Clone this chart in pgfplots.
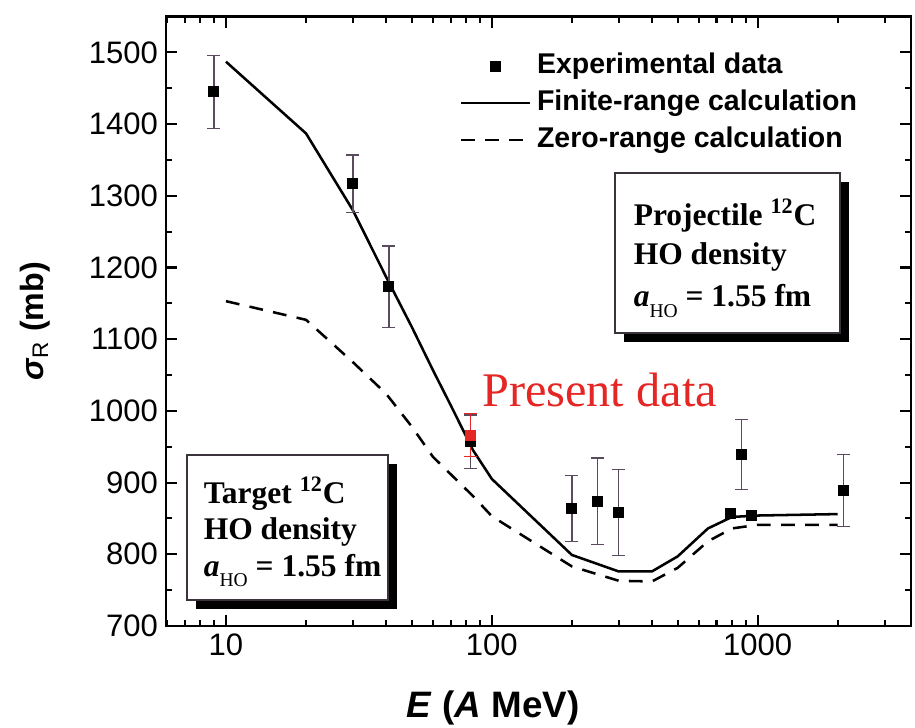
\documentclass[border=0pt]{standalone}
\usepackage{fontspec}
\setmainfont{Liberation Sans}
\newfontfamily\timesf{Liberation Serif}
\usepackage{pgfplots}
\pgfplotsset{compat=1.18}
\usetikzlibrary{calc}
\definecolor{pred}{RGB}{228,38,36}
\definecolor{errc}{RGB}{90,75,95}
\definecolor{boxc}{RGB}{60,50,60}
\newcommand{\aho}{\textit{a}\raisebox{-4.5pt}{\fontsize{8.5}{9}\selectfont\mdseries HO}}

\begin{document}
\begin{tikzpicture}
\begin{axis}[name=ax, scale only axis, width=324pt, height=265pt,
  xmode=log, xmin=5.95, xmax=3776, ymin=700, ymax=1550,
  xtick={10,100,1000}, xticklabels={10,100,1000},
  minor xtick={6,7,8,9,20,30,40,50,60,70,80,90,200,300,400,500,600,700,800,900,2000,3000},
  ytick={700,800,...,1500}, minor y tick num=1,
  /pgf/number format/1000 sep={}, /pgf/number format/assume math mode=true,
  tick label style={font=\fontsize{13.5}{16}\selectfont},
  axis line style={line width=1.1pt},
  tick style={black, line width=0.9pt},
  major tick length=4.8pt, minor tick length=2.6pt,
  xlabel={\textit{E} (\textit{A} MeV)},
  ylabel={\textit{σ}\textsubscript{\mdseries R} (mb)},
  xlabel style={at={(axis description cs:0.439,-0.1347)}, anchor=center, font=\bfseries\fontsize{16}{19}\selectfont},
  ylabel style={at={(axis description cs:-0.176,0.5)}, anchor=center, font=\bfseries\fontsize{14}{17}\selectfont},
  legend image code/.code={\draw[mark repeat=2,mark phase=2,#1] plot coordinates {(0pt,0pt)(15pt,0pt)(30pt,0pt)};},
  legend style={draw=none, fill=none, inner sep=0pt, outer sep=0pt,
    at={(rel axis cs:0.3942,0.858)}, anchor=west,
    font=\bfseries\fontsize{12.4}{14}\selectfont,
    nodes={inner sep=1pt, text height=9pt, text depth=2.6pt},
    row sep=2.5pt, column sep=1.5pt},
  legend cell align=left]

\addlegendimage{only marks, mark=square*, mark size=2.2pt, black}
\addlegendentry{Experimental data}
\addlegendimage{black, line width=1.1pt}
\addlegendentry{Finite-range calculation}
\addlegendimage{black, line width=1.1pt, dash pattern=on 6pt off 4.5pt}
\addlegendentry{Zero-range calculation}

% info boxes
\fill[black] ($(rel axis cs:0.6027,0.7432)+(3.9pt,-3.9pt)$) rectangle ($(rel axis cs:0.9047,0.4807)+(3.9pt,-3.9pt)$);
\draw[boxc, line width=0.8pt, fill=white] (rel axis cs:0.6027,0.7432) rectangle (rel axis cs:0.9047,0.4807);
\fill[black] ($(rel axis cs:0.0278,0.2806)+(3.9pt,-3.9pt)$) rectangle ($(rel axis cs:0.2984,0.0427)+(3.9pt,-3.9pt)$);
\draw[boxc, line width=0.8pt, fill=white] (rel axis cs:0.0278,0.2806) rectangle (rel axis cs:0.2984,0.0427);

\begin{scope}[every node/.style={anchor=base west, inner sep=0pt, font=\timesf\bfseries\fontsize{13.7}{16}\selectfont}]
\node at (rel axis cs:0.6272,0.6579) {Projectile \textsuperscript{12}C};
\node at (rel axis cs:0.6272,0.5923) {HO density};
\node at (rel axis cs:0.6272,0.5239) {\aho{} = 1.55 fm};
\node at (rel axis cs:0.0501,0.2013) {Target \textsuperscript{12}C};
\node at (rel axis cs:0.0501,0.1411) {HO density};
\node at (rel axis cs:0.0501,0.0809) {\aho{} = 1.55 fm};
\end{scope}
\node[anchor=base west, inner sep=0pt, text=pred, font=\timesf\fontsize{21}{24}\selectfont] at (rel axis cs:0.4238,0.3598) {Present data};

% zero-range calculation
\addplot[forget plot, black, line width=1.1pt, dash pattern=on 6pt off 4.5pt] coordinates {
(10,1153) (20,1127) (30,1068) (40,1024) (50,978) (60,936) (85,881) (100,853)
(200,783) (300,763) (400,762) (500,781) (650,818) (800,836) (1000,841) (2000,841)};
% finite-range calculation
\addplot[forget plot, black, line width=1.1pt] coordinates {
(10,1487) (20,1387) (30,1280) (40,1187) (50,1117) (60,1057) (70,1008) (85,945) (100,905)
(200,799) (300,776) (400,776) (500,797) (650,836) (800,852) (1000,854) (2000,856)};

% experimental data
\addplot[forget plot, only marks, mark=square*, mark size=2.2pt, black,
  error bars/.cd, y dir=both, y explicit,
  error bar style={errc, line width=0.6pt},
  error mark options={errc, rotate=90, mark size=2.8pt, line width=0.6pt}] coordinates {
(9,1445) +- (0,51)
(30,1317) +- (0,40)
(41,1173) +- (0,57)
(83,957) +- (0,37)
(200,864) +- (0,46)
(250,874) +- (0,60)
(300,858) +- (0,60)
(870,939) +- (0,49)
(2100,889) +- (0,50)};
\addplot[forget plot, only marks, mark=square*, mark size=2.2pt, black] coordinates {
(790,857) (950,854)};
% present data
\addplot[forget plot, only marks, mark=square*, mark size=2.2pt, pred,
  error bars/.cd, y dir=both, y explicit,
  error bar style={pred, line width=0.6pt},
  error mark options={pred, rotate=90, mark size=2.8pt, line width=0.6pt}] coordinates {
(83,966) +- (0,30)};
\end{axis}
\pgfresetboundingbox
\path[use as bounding box] ($(ax.south west)+(-72.2pt,-44.3pt)$) rectangle ($(ax.north east)+(1.7pt,7.2pt)$);
\end{tikzpicture}
\end{document}
